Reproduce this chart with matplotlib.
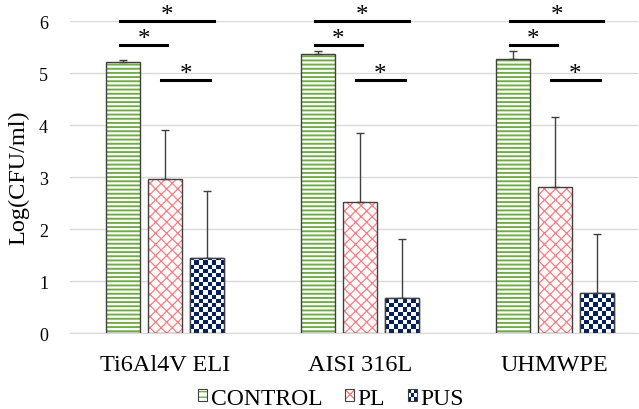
import numpy as np
import matplotlib
matplotlib.use('Agg')
import matplotlib.pyplot as plt
from matplotlib.patches import Patch, Rectangle
from matplotlib.legend_handler import HandlerBase

plt.rcParams['font.family'] = ['Liberation Serif', 'DejaVu Serif']

# data
materials = ['Ti6Al4V ELI', 'AISI 316L', 'UHMWPE']
control = [5.22, 5.37, 5.27]
control_sd = [0.04, 0.05, 0.15]
pl = [2.96, 2.52, 2.81]
pl_sd = [0.94, 1.33, 1.34]
pus = [1.44, 0.67, 0.77]
pus_sd = [1.29, 1.14, 1.13]
series_names = ['CONTROL', 'PL', 'PUS']

# significance bars: (start offset, end offset, height) relative to group centre
sig_bars = [(-0.23, 0.25, 6.0), (-0.23, 0.01, 5.54), (-0.02, 0.23, 4.87)]

green = '#70AD47'
red = '#FF7C80'
navy = '#002060'
edge = '#404040'

fig, ax = plt.subplots(figsize=(6.39, 4.10), dpi=100)
fig.subplots_adjust(left=0.11, right=0.998, bottom=0.185, top=0.946)

x = np.arange(len(materials))
w = 0.175
off = 0.215
ekw = dict(ecolor='#404040', elinewidth=1, capsize=3, capthick=1)

ax.bar(x - off, control, w, yerr=[np.zeros(3), control_sd], color='white',
       edgecolor=green, hatch='----', hatch_linewidth=1.4, linewidth=0, error_kw=ekw, zorder=3)
ax.bar(x - off, control, w, fill=False, edgecolor=edge, linewidth=1, zorder=4)

ax.bar(x, pl, w, yerr=[np.zeros(3), pl_sd], color='white',
       edgecolor=red, hatch='xxx', hatch_linewidth=0.9, linewidth=0, error_kw=ekw, zorder=3)
ax.bar(x, pl, w, fill=False, edgecolor=edge, linewidth=1, zorder=4)

pus_bars = ax.bar(x + off, pus, w, yerr=[np.zeros(3), pus_sd], color='white',
                  edgecolor=edge, linewidth=1, error_kw=ekw, zorder=3)

# checkerboard texture inside the PUS bars
sq_x = 0.022
sq_y = 0.082
cmap = matplotlib.colors.ListedColormap(['white', navy])
for b in pus_bars:
    x0, bw, bh = b.get_x(), b.get_width(), b.get_height()
    nc = int(np.ceil(bw / sq_x))
    nr = int(np.ceil(bh / sq_y))
    board = (np.add.outer(np.arange(nr), np.arange(nc)) % 2).astype(float)
    im = ax.imshow(board, cmap=cmap, extent=[x0, x0 + nc * sq_x, 0, nr * sq_y],
                   origin='lower', aspect='auto', interpolation='nearest', zorder=3.5)
    im.set_clip_path(b)
ax.bar(x + off, pus, w, fill=False, edgecolor=edge, linewidth=1, zorder=4)

# significance markers
for xc in x:
    for s, e, h in sig_bars:
        ax.plot([xc + s, xc + e], [h, h], color='black', lw=2.2, clip_on=False, zorder=5)
        ax.text(xc + (s + e) / 2, h - 0.1, '*', ha='center', va='bottom',
                fontsize=18, clip_on=False)

ax.set_xlim(-0.487, 2.426)
ax.set_ylim(0, 6)
ax.set_yticks(range(0, 7))
ax.set_xticks(x)
ax.set_xticklabels(materials, fontsize=17.5)
ax.tick_params(axis='y', labelsize=13, length=0, pad=16)
ax.tick_params(axis='x', length=0, pad=15)
ax.yaxis.grid(True, color='#D9D9D9', lw=1)
ax.set_axisbelow(True)
for sp in ['top', 'right', 'left']:
    ax.spines[sp].set_visible(False)
ax.spines['bottom'].set_color('#D9D9D9')
ax.set_ylabel('Log(CFU/ml)', fontsize=17.5)
ax.yaxis.set_label_coords(-0.072, 0.5)


class BoxHandler(HandlerBase):
    def create_artists(self, legend, orig_handle, xdescent, ydescent, width, height, fontsize, trans):
        x0, y0 = -xdescent, -ydescent
        arts = [Rectangle((x0, y0), width, height, facecolor='white', lw=0, transform=trans)]
        hatch = orig_handle.get_hatch()
        if hatch == 'checker':
            n = 3
            for i in range(n):
                for j in range(n):
                    if (i + j) % 2 == 0:
                        arts.append(Rectangle((x0 + i * width / n, y0 + j * height / n),
                                              width / n, height / n, facecolor=navy, lw=0,
                                              transform=trans))
        else:
            arts.append(Rectangle((x0, y0), width, height, facecolor='none',
                                  edgecolor=orig_handle.get_edgecolor(), hatch=hatch, lw=0,
                                  transform=trans))
        arts.append(Rectangle((x0, y0), width, height, fill=False, edgecolor=edge, lw=0.8,
                              transform=trans))
        return arts


h1 = Patch(edgecolor=green, hatch='---')
h2 = Patch(edgecolor=red, hatch='xxx')
h3 = Patch(edgecolor=navy, hatch='checker')
hb = BoxHandler()
leg = fig.legend([h1, h2, h3], series_names, loc='center', bbox_to_anchor=(0.518, 0.026),
                 ncol=3, frameon=False, fontsize=17, handlelength=0.4, handleheight=0.4,
                 handletextpad=0.15, columnspacing=0.95, borderpad=0.1,
                 handler_map={h1: hb, h2: hb, h3: hb})

fig.savefig('out.png', dpi=100)
